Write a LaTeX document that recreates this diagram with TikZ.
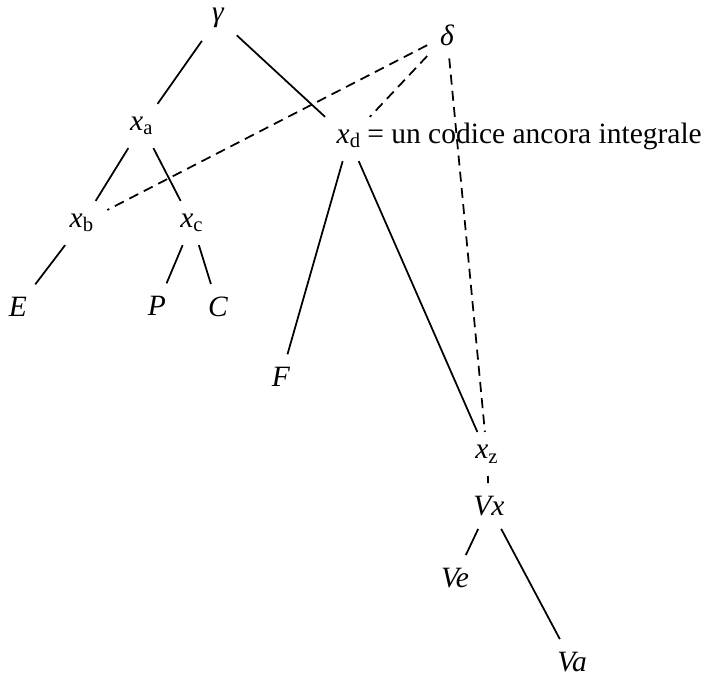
\documentclass[tikz,border=0pt]{standalone}
\usepackage{fontspec}
\setmainfont{Liberation Serif}
\usetikzlibrary{positioning}
\newcommand{\varsub}[2]{\textit{#1}\textsubscript{\upshape #2}}

\begin{document}
\begin{tikzpicture}[
  x=0.4pt, y=-0.4pt,
  every node/.style={font=\fontsize{11.8}{14}\selectfont\itshape, inner sep=5pt},
  tie/.style={line width=0.7pt},
  link/.style={line width=0.7pt, dash pattern=on 4pt off 2.5pt}
]
\useasboundingbox (0,0) rectangle (704,677);

% Archetype and upper branches
\node (gamma) at (218,18) {γ};
\node (delta) at (447,35) {δ};
\node (xa) at (142,126) {\varsub{x}{a}};
\node (xd) at (349,139) {\varsub{x}{d}};
\node[base right=-3pt of xd, font=\fontsize{11.8}{14}\selectfont\upshape, inner sep=0pt] (gloss)
  {= un codice ancora integrale};

% Lower branches
\node (xb) at (82,223) {\varsub{x}{b}};
\node (xc) at (192,223) {\varsub{x}{c}};
\node (E) at (18,307) {E};
\node (P) at (157,306) {P};
\node (C) at (218,307) {C};
\node (F) at (281,377) {F};
\node (xz) at (487,454) {\varsub{x}{z}};
\node (Vx) at (489,506) {Vx};
\node (Ve) at (455,578) {Ve};
\node (Va) at (572,662) {Va};

% Filiation
\foreach \a/\b in {gamma/xa, gamma/xd, xa/xb, xa/xc, xb/E, xc/P, xc/C,
                   xd/F, xd/xz, Vx/Ve, Vx/Va}{
  \draw[tie] (\a) -- (\b);
}

% Contamination
\foreach \a/\b in {delta/xb, delta/xd, delta/xz, xz/Vx}{
  \draw[link] (\a) -- (\b);
}

\end{tikzpicture}
\end{document}
